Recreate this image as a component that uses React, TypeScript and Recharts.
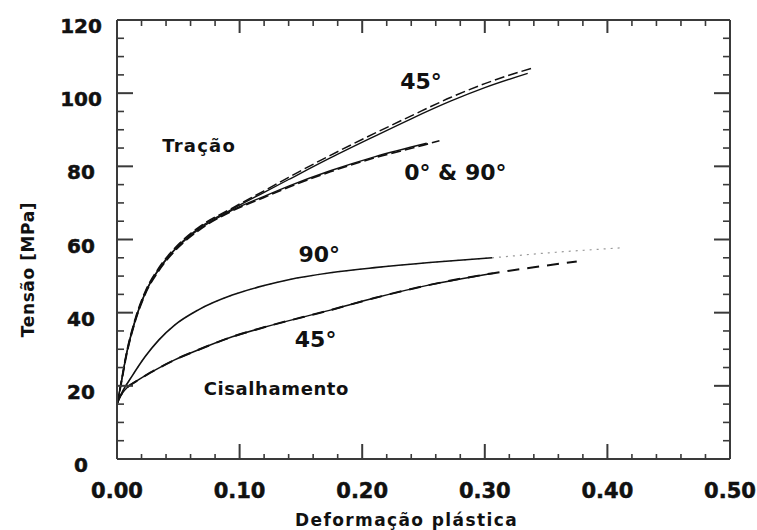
import React from 'react';
import { LineChart, Line, XAxis, YAxis, ReferenceDot, Label } from 'recharts';

// ---------- data (strain, stress MPa) ----------
const tension45SolidX = [0, 0.0024, 0.008, 0.015, 0.023, 0.034, 0.047, 0.066, 0.094, 0.12, 0.14, 0.174, 0.21, 0.24, 0.272, 0.3, 0.335];
const tension45SolidY = [15, 19, 29.2, 38.2, 45.5, 51.9, 57.3, 62.9, 68.3, 72.9, 76.4, 82.3, 88.2, 93, 97.8, 101.5, 105.4];
const tension45DashX = [0, 0.0024, 0.008, 0.015, 0.023, 0.034, 0.047, 0.066, 0.094, 0.12, 0.14, 0.174, 0.21, 0.24, 0.272, 0.3, 0.34];
const tension45DashY = [15, 19.3, 29.5, 38.5, 45.8, 52.2, 57.6, 63.2, 68.6, 73.3, 77, 83, 89, 93.8, 98.8, 102.6, 107];

const tension090SolidX = [0, 0.0024, 0.008, 0.015, 0.023, 0.034, 0.047, 0.066, 0.094, 0.12, 0.14, 0.174, 0.21, 0.2526];
const tension090SolidY = [15, 19, 29, 38, 45.3, 51.7, 57.1, 62.6, 68, 71.8, 74.6, 78.8, 82.6, 86.3];
const tension090DashX = [0, 0.0024, 0.008, 0.015, 0.023, 0.034, 0.047, 0.066, 0.094, 0.12, 0.14, 0.174, 0.21, 0.25, 0.263];
const tension090DashY = [15, 18.7, 28.7, 37.7, 45, 51.4, 56.8, 62.3, 67.8, 71.5, 74.3, 78.5, 82.3, 85.8, 87];

const shear90SolidX = [0, 0.0038, 0.012, 0.023, 0.034, 0.047, 0.066, 0.094, 0.12, 0.14, 0.174, 0.21, 0.255, 0.306];
const shear90SolidY = [15, 18, 22.5, 28, 32.5, 36.6, 40.7, 44.8, 47.4, 49, 50.9, 52.3, 53.7, 55];
const shear90DotX = [0, 0.0038, 0.012, 0.023, 0.034, 0.047, 0.066, 0.094, 0.12, 0.14, 0.174, 0.21, 0.255, 0.306, 0.35, 0.41];
const shear90DotY = [15, 18, 22.5, 28, 32.5, 36.6, 40.7, 44.8, 47.4, 49, 50.9, 52.3, 53.7, 55, 56.3, 57.7];

const shear45SolidX = [0, 0.001, 0.0065, 0.0174, 0.031, 0.047, 0.066, 0.094, 0.12, 0.174, 0.21, 0.255, 0.307];
const shear45SolidY = [15, 16, 18.9, 21.6, 24.3, 27.1, 29.8, 33.4, 36, 40.7, 44, 47.6, 50.8];
const shear45DashX = [0, 0.001, 0.0065, 0.0174, 0.031, 0.047, 0.066, 0.094, 0.12, 0.174, 0.21, 0.255, 0.307, 0.34, 0.375];
const shear45DashY = [15, 16, 18.9, 21.6, 24.3, 27.1, 29.8, 33.4, 36, 40.7, 44, 47.6, 50.8, 52.4, 54];

const xTicks = [0, 0.02, 0.04, 0.06, 0.08, 0.1, 0.12, 0.14, 0.16, 0.18, 0.2, 0.22, 0.24, 0.26, 0.28, 0.3, 0.32, 0.34, 0.36, 0.38, 0.4, 0.42, 0.44, 0.46, 0.48, 0.5];
const xTickLabels = ['0.00', '0.10', '0.20', '0.30', '0.40', '0.50'];
const yTicks = [0, 5, 10, 15, 20, 25, 30, 35, 40, 45, 50, 55, 60, 65, 70, 75, 80, 85, 90, 95, 100, 105, 110, 115, 120];

const annotations = [
  { text: '45°', x: 0.248, y: 103.3, size: 22, spacing: 0 },
  { text: '0° & 90°', x: 0.276, y: 78.2, size: 22, spacing: 0 },
  { text: 'Tração', x: 0.067, y: 85.8, size: 18, spacing: 1.2 },
  { text: '90°', x: 0.165, y: 56, size: 22, spacing: 0 },
  { text: '45°', x: 0.162, y: 32.8, size: 22, spacing: 0 },
  { text: 'Cisalhamento', x: 0.13, y: 19.4, size: 18, spacing: 0.6 },
];

const zip = (xs: number[], ys: number[]) => xs.map((x, i) => ({ x, y: ys[i] }));

const FONT = '"DejaVu Sans", Verdana, sans-serif';
const INK = '#111';
const FRAME = '#3a3a3a';

const isMajorX = (v: number) => Math.abs(v * 10 - Math.round(v * 10)) < 1e-6;
const isMajorY = (v: number) => Math.abs(v % 20) < 1e-6;

const BottomTick = (props: any) => {
  const { x, y, payload } = props;
  const major = isMajorX(payload.value);
  const idx = Math.round(payload.value * 10);
  return (
    <g>
      <line x1={x} x2={x} y1={y} y2={y - (major ? 15 : 5)} stroke={FRAME} strokeWidth={major ? 2 : 1.6} />
      {major && (
        <text x={x} y={y + 39} textAnchor="middle" fontSize={21} fontWeight="bold" fontFamily={FONT} fill={INK} stroke={INK} strokeWidth={0.5}>
          {xTickLabels[idx]}
        </text>
      )}
    </g>
  );
};

const TopTick = (props: any) => {
  const { x, y, payload } = props;
  const major = isMajorX(payload.value);
  return <line x1={x} x2={x} y1={y} y2={y + (major ? 13 : 6)} stroke={FRAME} strokeWidth={major ? 2 : 1.6} />;
};

const LeftTick = (props: any) => {
  const { x, y, payload } = props;
  const major = isMajorY(payload.value);
  return (
    <g>
      <line x1={x} x2={x + (major ? 16 : 7)} y1={y} y2={y} stroke={FRAME} strokeWidth={major ? 2 : 1.6} />
      {major && (
        <text x={x - 36} y={y + 13} textAnchor="middle" fontSize={20} fontWeight="bold" fontFamily={FONT} fill={INK} stroke={INK} strokeWidth={0.5}>
          {payload.value}
        </text>
      )}
    </g>
  );
};

const RightTick = (props: any) => {
  const { x, y, payload } = props;
  const major = isMajorY(payload.value);
  return <line x1={x} x2={x - (major ? 16 : 7)} y1={y} y2={y} stroke={FRAME} strokeWidth={major ? 2 : 1.6} />;
};

const lineCommon = {
  dataKey: 'y',
  type: 'monotone' as const,
  dot: false,
  activeDot: false,
  isAnimationActive: false,
};

export default function App() {
  return (
    <div style={{ position: 'absolute', left: 0, top: 0, background: '#fff' }}>
      <LineChart width={757} height={530} margin={{ top: 19, right: 26, bottom: 70, left: 116 }}>
        <XAxis
          dataKey="x"
          type="number"
          domain={[0, 0.5]}
          ticks={xTicks}
          interval={0}
          height={1}
          tickSize={0}
          tickMargin={0}
          tickLine={false}
          tick={BottomTick}
          axisLine={{ stroke: FRAME, strokeWidth: 2 }}
          allowDataOverflow
        >
          <Label
            content={(p: any) => {
              const vb = p.viewBox;
              return (
                <text x={vb.x + vb.width / 2 - 17} y={vb.y + 67} textAnchor="middle" fontSize={17} fontWeight="bold" fontFamily={FONT} fill={INK} letterSpacing={1.4}>
                  Deformação plástica
                </text>
              );
            }}
          />
        </XAxis>
        <XAxis
          xAxisId="top"
          orientation="top"
          dataKey="x"
          type="number"
          domain={[0, 0.5]}
          ticks={xTicks}
          interval={0}
          height={1}
          tickSize={0}
          tickMargin={0}
          tickLine={false}
          tick={TopTick}
          axisLine={{ stroke: FRAME, strokeWidth: 2 }}
          allowDataOverflow
        />
        <YAxis
          type="number"
          domain={[0, 120]}
          ticks={yTicks}
          interval={0}
          width={1}
          tickSize={0}
          tickMargin={0}
          tickLine={false}
          tick={LeftTick}
          axisLine={{ stroke: FRAME, strokeWidth: 2 }}
          allowDataOverflow
        >
          <Label
            content={(p: any) => {
              const vb = p.viewBox;
              const cx = vb.x + vb.width - 89;
              const cy = vb.y + vb.height / 2 + 30;
              return (
                <text x={cx} y={cy} transform={`rotate(-90, ${cx}, ${cy})`} textAnchor="middle" dominantBaseline="central" fontSize={17} fontWeight="bold" fontFamily={FONT} fill={INK} letterSpacing={0.6}>
                  Tensão [MPa]
                </text>
              );
            }}
          />
        </YAxis>
        <YAxis
          yAxisId="right"
          orientation="right"
          type="number"
          domain={[0, 120]}
          ticks={yTicks}
          interval={0}
          width={1}
          tickSize={0}
          tickMargin={0}
          tickLine={false}
          tick={RightTick}
          axisLine={{ stroke: FRAME, strokeWidth: 2 }}
          allowDataOverflow
        />

        <Line {...lineCommon} data={zip(shear90DotX, shear90DotY)} stroke="#9a9a9a" strokeWidth={1.2} strokeDasharray="2 5" />
        <Line {...lineCommon} data={zip(shear90SolidX, shear90SolidY)} stroke={INK} strokeWidth={1.6} />
        <Line {...lineCommon} data={zip(shear45DashX, shear45DashY)} stroke={INK} strokeWidth={2} strokeDasharray="12 8" />
        <Line {...lineCommon} data={zip(shear45SolidX, shear45SolidY)} stroke={INK} strokeWidth={1.5} />
        <Line {...lineCommon} data={zip(tension090DashX, tension090DashY)} stroke={INK} strokeWidth={1.6} strokeDasharray="10 4" />
        <Line {...lineCommon} data={zip(tension090SolidX, tension090SolidY)} stroke={INK} strokeWidth={1.4} />
        <Line {...lineCommon} data={zip(tension45DashX, tension45DashY)} stroke={INK} strokeWidth={1.5} strokeDasharray="10 4" />
        <Line {...lineCommon} data={zip(tension45SolidX, tension45SolidY)} stroke={INK} strokeWidth={1.4} />

        {annotations.map((a, i) => (
          <ReferenceDot
            key={i}
            x={a.x}
            y={a.y}
            r={0}
            ifOverflow="visible"
            shape={(p: any) => (
              <text x={p.cx} y={p.cy} textAnchor="middle" dominantBaseline="central" fontSize={a.size} fontWeight="bold" fontFamily={FONT} fill={INK} letterSpacing={a.spacing}>
                {a.text}
              </text>
            )}
          />
        ))}
      </LineChart>
    </div>
  );
}
